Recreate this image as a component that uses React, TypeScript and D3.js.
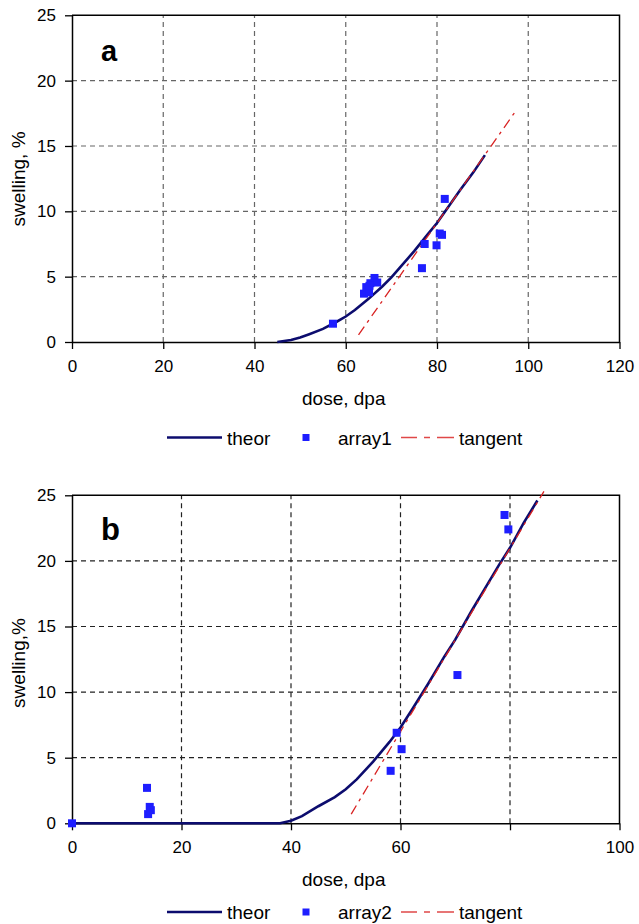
import React, { useEffect, useRef } from "react";
import * as d3 from "d3";

// ---- panel a ----
const theorDoseA = [45, 48, 50, 52, 55, 58, 60, 62, 65, 68, 70, 72, 75, 78, 80, 83, 85, 88, 90.5];
const theorSwellA = [0, 0.15, 0.35, 0.6, 1.0, 1.55, 1.95, 2.45, 3.3, 4.25, 4.95, 5.75, 6.95, 8.25, 9.1, 10.6, 11.6, 13.0, 14.3];
const array1Dose = [57.2, 64, 64.5, 65.1, 65.4, 66.3, 66.9, 65.2, 76.7, 77.3, 79.9, 80.6, 81.1, 81.7];
const array1Swell = [1.4, 3.7, 4.2, 3.8, 4.5, 4.9, 4.55, 4.3, 5.65, 7.5, 7.4, 8.3, 8.2, 10.95];
const tangentDoseA = [62.8, 97.5];
const tangentSwellA = [0.55, 17.8];
const xTicksA = [0, 20, 40, 60, 80, 100, 120];
const xLabelsA = ["0", "20", "40", "60", "80", "100", "120"];

// ---- panel b ----
const theorDoseB = [0, 38, 40, 42, 45, 48, 50, 52, 55, 58, 60, 62, 65, 68, 70, 73, 75, 78, 80, 82.5, 85];
const theorSwellB = [0, 0, 0.2, 0.55, 1.3, 2.0, 2.6, 3.35, 4.7, 6.2, 7.3, 8.6, 10.6, 12.7, 14.0, 16.2, 17.6, 19.7, 21.0, 22.9, 24.6];
const array2Dose = [0, 13.7, 14.2, 14.4, 13.9, 58.2, 59.3, 60.2, 70.4, 79.0, 79.7];
const array2Swell = [0, 2.7, 1.25, 1.0, 0.7, 4.0, 6.9, 5.65, 11.3, 23.5, 22.4];
const tangentDoseB = [51, 86.2];
const tangentSwellB = [0.7, 25.3];
const xTicksB = [0, 20, 40, 60, 80, 100];
const xLabelsB = ["0", "20", "40", "60", "", "100"];

const yTicks = [0, 5, 10, 15, 20, 25];
const yLabels = ["0", "5", "10", "15", "20", "25"];

const FONT = "Liberation Sans, Arial, sans-serif";

const drawPanel = (svg, p) => {
  const left = 72;
  const right = 619.5;
  const x = d3.scaleLinear().domain([0, p.xMax]).range([left, right]);
  const y = d3.scaleLinear().domain([0, 25]).range([p.bottom, p.top]);
  const g = svg.append("g");

  // grid
  g.selectAll(".vgrid")
    .data(p.xTicks.filter((t) => t > 0 && t < p.xMax))
    .enter()
    .append("line")
    .attr("x1", (d) => x(d))
    .attr("x2", (d) => x(d))
    .attr("y1", y(0))
    .attr("y2", y(25))
    .attr("stroke", p.gridColor)
    .attr("stroke-width", 1.2)
    .attr("stroke-dasharray", "5,4");
  g.selectAll(".hgrid")
    .data(yTicks.filter((t) => t > 0 && t < 25))
    .enter()
    .append("line")
    .attr("x1", x(0))
    .attr("x2", x(p.xMax))
    .attr("y1", (d) => y(d))
    .attr("y2", (d) => y(d))
    .attr("stroke", p.gridColor)
    .attr("stroke-width", 1.2)
    .attr("stroke-dasharray", "5,4");

  // frame top + right
  g.append("path")
    .attr("d", `M${x(0)},${y(25)}H${x(p.xMax)}V${y(0)}`)
    .attr("fill", "none")
    .attr("stroke", "#000")
    .attr("stroke-width", 1.5);

  // axes
  const xAxis = g
    .append("g")
    .attr("transform", `translate(0,${y(0)})`)
    .call(
      d3.axisBottom(x)
        .tickValues(p.xTicks)
        .tickFormat((d, i) => p.xLabels[i])
        .tickSize(7)
        .tickSizeOuter(0)
        .tickPadding(11)
    );
  const yAxis = g
    .append("g")
    .attr("transform", `translate(${x(0)},0)`)
    .call(
      d3.axisLeft(y)
        .tickValues(yTicks)
        .tickFormat((d, i) => yLabels[i])
        .tickSize(7)
        .tickSizeOuter(0)
        .tickPadding(9)
    );
  [xAxis, yAxis].forEach((a) => {
    a.select(".domain").attr("stroke", "#000").attr("stroke-width", 1.5);
    a.selectAll(".tick line").attr("stroke", "#000").attr("stroke-width", 1.3);
    a.selectAll(".tick text")
      .attr("font-family", FONT)
      .attr("font-size", 17)
      .attr("fill", "#000");
  });

  // series
  const line = d3
    .line()
    .x((d) => x(d[0]))
    .y((d) => y(d[1]));

  g.append("path")
    .datum(p.theorDose.map((d, i) => [d, p.theorSwell[i]]))
    .attr("d", line)
    .attr("fill", "none")
    .attr("stroke", "#0c0c6e")
    .attr("stroke-width", 2.6);

  g.append("path")
    .datum(p.tangentDose.map((d, i) => [d, p.tangentSwell[i]]))
    .attr("d", line)
    .attr("fill", "none")
    .attr("stroke", "#d82222")
    .attr("stroke-width", 1.3)
    .attr("stroke-dasharray", "10,5,3,5");

  const ms = 8;
  g.selectAll(".pt")
    .data(p.dataDose.map((d, i) => [d, p.dataSwell[i]]))
    .enter()
    .append("rect")
    .attr("x", (d) => x(d[0]) - ms / 2)
    .attr("y", (d) => y(d[1]) - ms / 2)
    .attr("width", ms)
    .attr("height", ms)
    .attr("fill", "#1e1eff");

  // panel letter
  g.append("text")
    .attr("x", 101)
    .attr("y", p.top + p.letterDy)
    .attr("font-family", FONT)
    .attr("font-weight", "bold")
    .attr("font-size", p.letterSize)
    .text(p.letter);

  // axis titles
  g.append("text")
    .attr("x", (left + right) / 2 - 2)
    .attr("y", p.bottom + 63)
    .attr("text-anchor", "middle")
    .attr("font-family", FONT)
    .attr("font-size", 19)
    .text("dose, dpa");

  g.append("text")
    .attr("transform", `translate(25,${p.yTitleCy}) rotate(-90)`)
    .attr("text-anchor", "middle")
    .attr("font-family", FONT)
    .attr("font-size", 19)
    .text(p.yTitle);

  // legend
  const ly = p.legendY;
  const lg = g.append("g").attr("font-family", FONT).attr("font-size", 19);
  lg.append("line")
    .attr("x1", 167)
    .attr("x2", 222)
    .attr("y1", ly)
    .attr("y2", ly)
    .attr("stroke", "#0c0c6e")
    .attr("stroke-width", 2.6);
  lg.append("text").attr("x", 227).attr("y", ly + 7).text("theor");
  lg.append("rect")
    .attr("x", 306 - 3.5)
    .attr("y", ly - 3.5)
    .attr("width", 7)
    .attr("height", 7)
    .attr("fill", "#1e1eff");
  lg.append("text").attr("x", 338).attr("y", ly + 7).text(p.dataName);
  lg.append("line")
    .attr("x1", 401)
    .attr("x2", 454)
    .attr("y1", ly)
    .attr("y2", ly)
    .attr("stroke", "#e04848")
    .attr("stroke-width", 1.5)
    .attr("stroke-dasharray", "16,7,6,7,17");
  lg.append("text").attr("x", 459).attr("y", ly + 7).text("tangent");
};

const App = () => {
  const ref = useRef(null);

  useEffect(() => {
    document.body.style.margin = "0";
    const svg = d3.select(ref.current);
    svg.selectAll("*").remove();

    drawPanel(svg, {
      xMax: 120,
      top: 15.3,
      bottom: 342,
      xTicks: xTicksA,
      xLabels: xLabelsA,
      gridColor: "#666",
      theorDose: theorDoseA,
      theorSwell: theorSwellA,
      tangentDose: tangentDoseA,
      tangentSwell: tangentSwellA,
      dataDose: array1Dose,
      dataSwell: array1Swell,
      dataName: "array1",
      letter: "a",
      letterDy: 46,
      letterSize: 29,
      yTitle: "swelling, %",
      yTitleCy: 179,
      legendY: 437.5,
    });

    drawPanel(svg, {
      xMax: 100,
      top: 495.3,
      bottom: 823.3,
      xTicks: xTicksB,
      xLabels: xLabelsB,
      gridColor: "#222",
      theorDose: theorDoseB,
      theorSwell: theorSwellB,
      tangentDose: tangentDoseB,
      tangentSwell: tangentSwellB,
      dataDose: array2Dose,
      dataSwell: array2Swell,
      dataName: "array2",
      letter: "b",
      letterDy: 45,
      letterSize: 31,
      yTitle: "swelling,%",
      yTitleCy: 663,
      legendY: 912,
    });
  }, []);

  return <svg ref={ref} width={639} height={924} style={{ display: "block" }} />;
};

export default App;
